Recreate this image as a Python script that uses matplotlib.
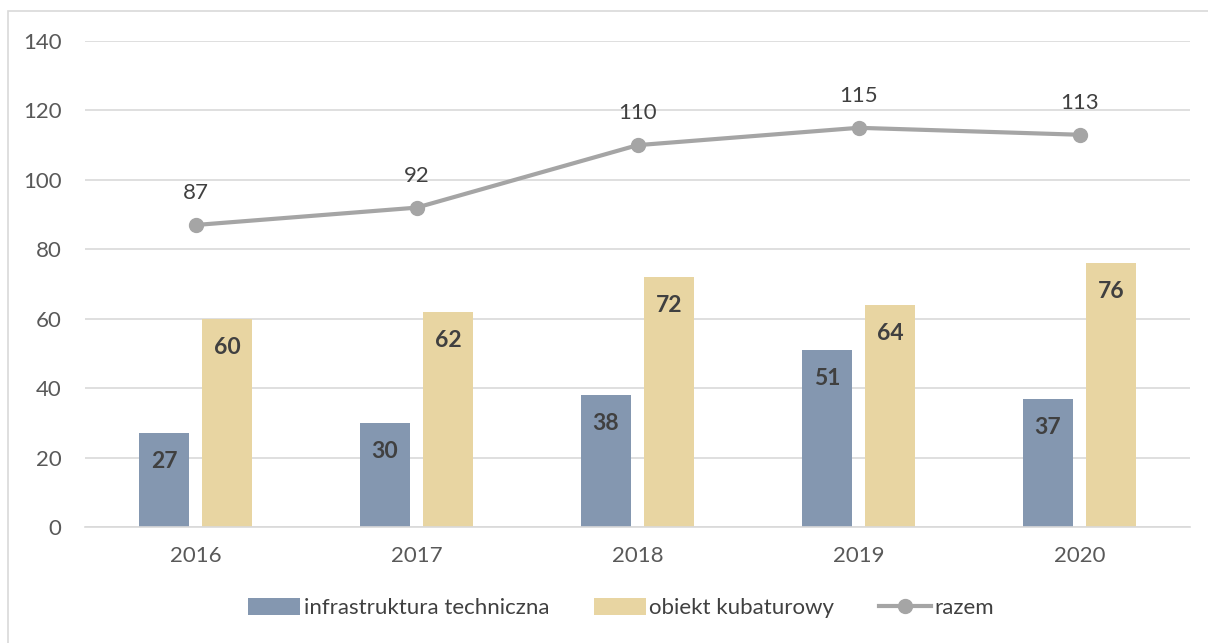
import numpy as np
import matplotlib.pyplot as plt
from matplotlib.patches import Rectangle

plt.rcParams['font.family'] = ['Lato', 'DejaVu Sans']

years = ['2016', '2017', '2018', '2019', '2020']
infra = [27, 30, 38, 51, 37]
kubatur = [60, 62, 72, 64, 76]
razem = [87, 92, 110, 115, 113]

c_infra = '#8497B0'
c_kub = '#E8D5A2'
c_line = '#A5A5A5'
c_text = '#404040'

fig = plt.figure(figsize=(12.08, 6.43), dpi=100)
ax = fig.add_axes([0.0704, 0.1804, 0.9147, 0.7558])

x = np.arange(len(years))
w = 0.225
off = 0.143
b1 = ax.bar(x - off, infra, w, color=c_infra, label='infrastruktura techniczna', zorder=2)
b2 = ax.bar(x + off, kubatur, w, color=c_kub, label='obiekt kubaturowy', zorder=2)
ax.plot(x, razem, color=c_line, lw=3, marker='o', ms=10, label='razem', zorder=3)

for rects, vals in [(b1, infra), (b2, kubatur)]:
    for r, v in zip(rects, vals):
        ax.text(r.get_x() + r.get_width() / 2, v - 8.2, str(v), ha='center', va='center',
                fontsize=16.5, fontweight='bold', color=c_text, zorder=4)
for xi, v in zip(x, razem):
    ax.text(xi, v + 9.2, str(v), ha='center', va='center', fontsize=16, color=c_text)

ax.set_xlim(-0.5, 4.5)
ax.set_ylim(0, 140)
ax.set_yticks(range(0, 141, 20))
ax.set_xticks(x)
ax.set_xticklabels(years)
ax.tick_params(length=0, labelsize=16, colors='#595959')
ax.tick_params(axis='x', pad=14)
ax.tick_params(axis='y', pad=17)
ax.grid(axis='y', color='#D9D9D9', lw=1.2, zorder=0)
ax.set_axisbelow(True)
for s in ['top', 'right', 'left']:
    ax.spines[s].set_visible(False)
ax.spines['bottom'].set_color('#D9D9D9')
ax.spines['bottom'].set_linewidth(1.2)

handles, labels = ax.get_legend_handles_labels()
order = [1, 2, 0]
ax.legend([handles[i] for i in order], [labels[i] for i in order],
          loc='center', bbox_to_anchor=(0.485, -0.167), ncol=3, frameon=False,
          fontsize=16, handlelength=2.35, handleheight=0.8, handletextpad=0.15,
          columnspacing=2.0, labelcolor='#404040')

fig.patches.append(Rectangle((8 / 1208, -0.01), 1.1, 1 - 11 / 643 + 0.01,
                             transform=fig.transFigure, fill=False,
                             edgecolor='#D9D9D9', lw=1.2))

fig.savefig('out.png', dpi=100)
